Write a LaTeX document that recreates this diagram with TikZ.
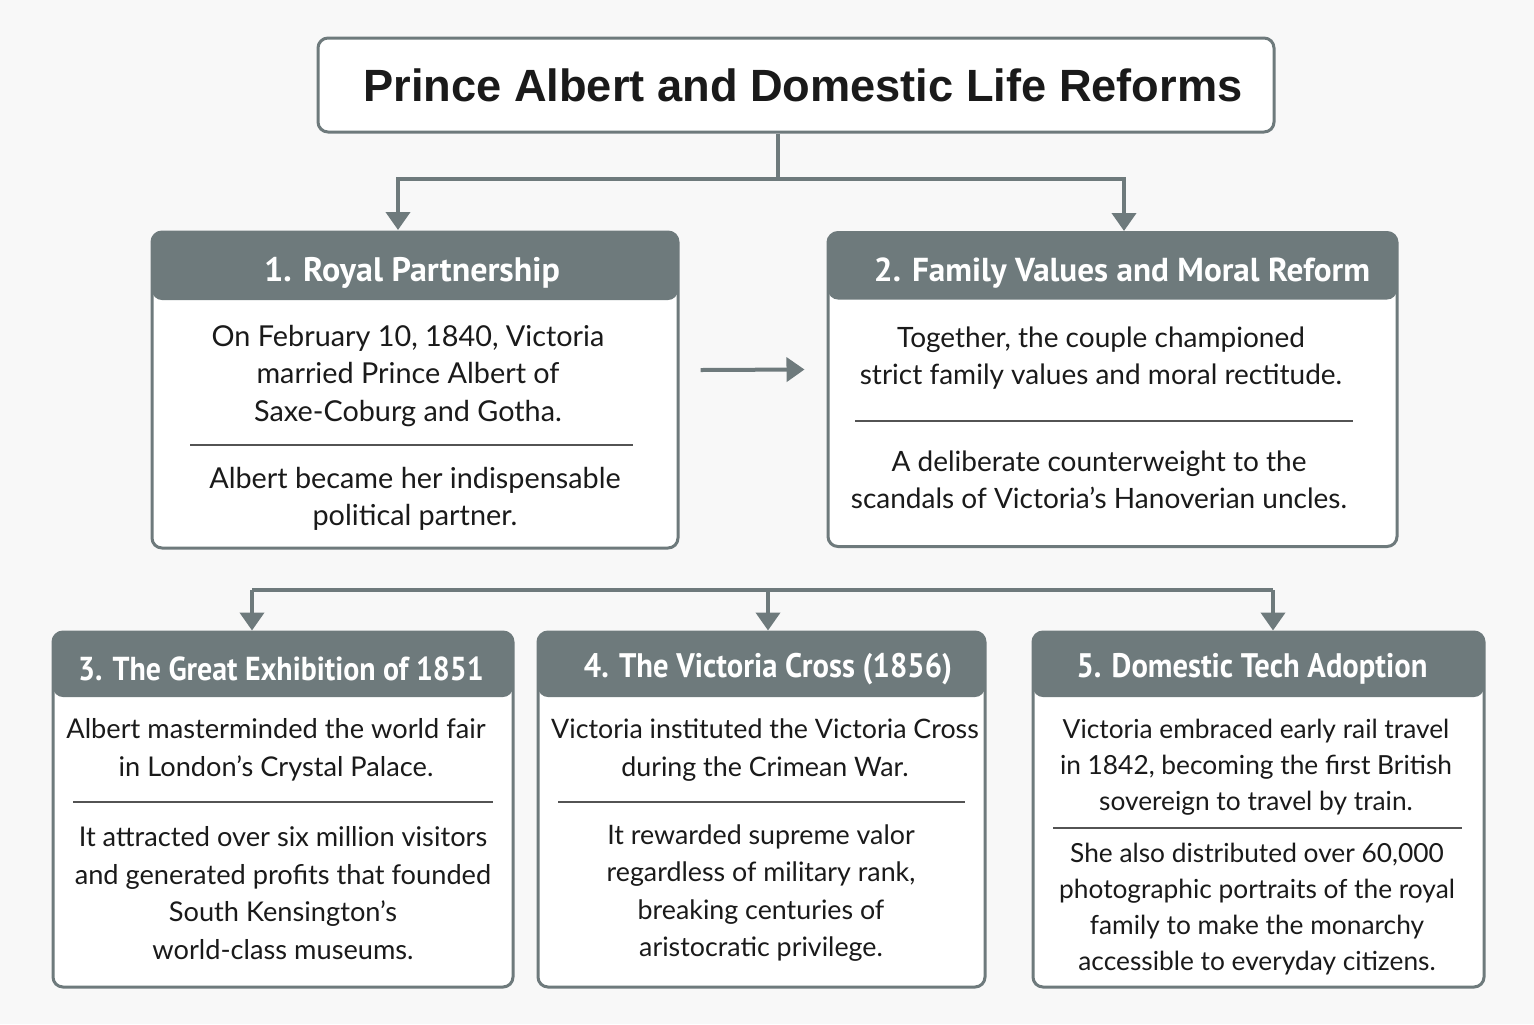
\documentclass[tikz,border=0pt]{standalone}
\usepackage{fontspec}
\setmainfont{Lato}
\newfontfamily\titlefont{Liberation Sans}
\newfontfamily\hdrfont{PT Sans}[FakeStretch=0.9]
\newfontfamily\hdrwide{PT Sans}
\usetikzlibrary{arrows.meta}
\definecolor{edge}{HTML}{6E7A7C}
\definecolor{ink}{HTML}{1A1A1A}
\definecolor{paper}{HTML}{F8F8F8}
\begin{document}
\begin{tikzpicture}[x=0.5pt,y=-0.5pt,
	card/.style={
		draw=edge, fill=white,
		line width=1.5pt,
		rounded corners=5pt,
		inner sep=0pt,
		path picture={\fill[edge] (path picture bounding box.north west) rectangle ([yshift=-#1]path picture bounding box.north east);}},
	head/.style={
		text=white,
		font=\hdrfont\bfseries\fontsize{#1}{20}\selectfont},
	head/.default=17,
	widehead/.style={
		text=white,
		font=\hdrwide\bfseries\fontsize{#1}{20}\selectfont},
	body/.style={
		text=ink, align=center,
		font=\fontsize{#1}{18.75}\selectfont},
	body/.default=14.4,
	tight/.style={
		text=ink, align=center,
		font=\fontsize{13.15}{18}\selectfont},
	rule/.style={draw=ink!75, line width=0.6pt},
	link/.style={draw=edge, line width=2pt},
	arr/.style={link, -{Triangle[width=12pt,length=9pt]}}]
	\fill[paper] (0,0) rectangle (1534,1024);
	\useasboundingbox (0,0) rectangle (1534,1024);
	\node [draw=edge, fill=white, line width=1.5pt, rounded corners=5pt,
		minimum width=478pt, minimum height=47pt,
		text=ink, font=\titlefont\bfseries\fontsize{22.6}{26}\selectfont] (title) at (796,85) {\hspace*{7pt}Prince Albert and Domestic Life Reforms};
	\node [card=34pt, minimum width=263pt, minimum height=158pt] (c1) at (415,390) {};
	\node [card=33.5pt, minimum width=284.5pt, minimum height=157pt] (c2) at (1112.5,389.5) {};
	\node [card=32.5pt, minimum width=230pt, minimum height=177.5pt] (c3) at (283,809.5) {};
	\node [card=32.5pt, minimum width=223.5pt, minimum height=177.5pt] (c4) at (761.5,809.5) {};
	\node [card=32.5pt, minimum width=225.5pt, minimum height=177.5pt] (c5) at (1258.5,809.5) {};
	\node [widehead=17] (h1) at (412,273) {1. Royal Partnership};
	\node [widehead=16.6] (h2) at (1122,273) {2. Family Values and Moral Reform};
	\node [head=16.6] (h3) at (281,669) {3. The Great Exhibition of 1851};
	\node [head] (h4) at (768,669) {4. The Victoria Cross (1856)};
	\node [head] (h5) at (1252,669) {5. Domestic Tech Adoption};
	\node [body] (a1) at (408,376) {On February 10, 1840, Victoria\\married Prince Albert of\\Saxe-Coburg and Gotha.};
	\node [body] (b1) at (415,499) {Albert became her indispensable\\political partner.};
	\node [body=14] (a2) at (1101,358) {Together, the couple championed\\strict family values and moral rectitude.};
	\node [body=14] (b2) at (1099,480) {A deliberate counterweight to the\\scandals of Victoria’s Hanoverian uncles.};
	\node [body=13.6] (a3) at (276,750) {Albert masterminded the world fair\\in London’s Crystal Palace.};
	\node [body=13.6] (b3) at (283,893) {It attracted over six million visitors\\and generated profits that founded\\South Kensington’s\\world-class museums.};
	\node [body=13.4] (a4) at (765,750) {Victoria instituted the Victoria Cross\\during the Crimean War.};
	\node [body=13.4] (b4) at (761,893) {It rewarded supreme valor\\regardless of military rank,\\breaking centuries of\\aristocratic privilege.};
	\node [tight] (a5) at (1256,767) {Victoria embraced early rail travel\\in 1842, becoming the first British\\sovereign to travel by train.};
	\node [tight] (b5) at (1257,909) {She also distributed over 60,000\\photographic portraits of the royal\\family to make the monarchy\\accessible to everyday citizens.};
	\draw [rule] (190,445) -- (633,445);
	\draw [rule] (855,421) -- (1353,421);
	\draw [rule] (73,802) -- (493,802);
	\draw [rule] (558,802) -- (965,802);
	\draw [rule] (1053,828) -- (1462,828);
	\coordinate (s1) at (778,179);
	\coordinate (s2) at (252,590);
	\coordinate (s3) at (768,590);
	\coordinate (s4) at (1273,590);
	\draw [link] (s1 |- title.south) -- (s1);
	\draw [arr] (s1) -| (398,230);
	\draw [arr] (s1) -| (1124,231);
	\draw [link] (s2) -- (s4);
	\draw [arr] (s2) -- (s2 |- c3.north);
	\draw [arr] (s3) -- (s3 |- c4.north);
	\draw [arr] (s4) -- (s4 |- c5.north);
	\draw [arr] ([shift={(21,-20)}]c1.east) -- ([shift={(-22,-20)}]c2.west);
\end{tikzpicture}
\end{document}
